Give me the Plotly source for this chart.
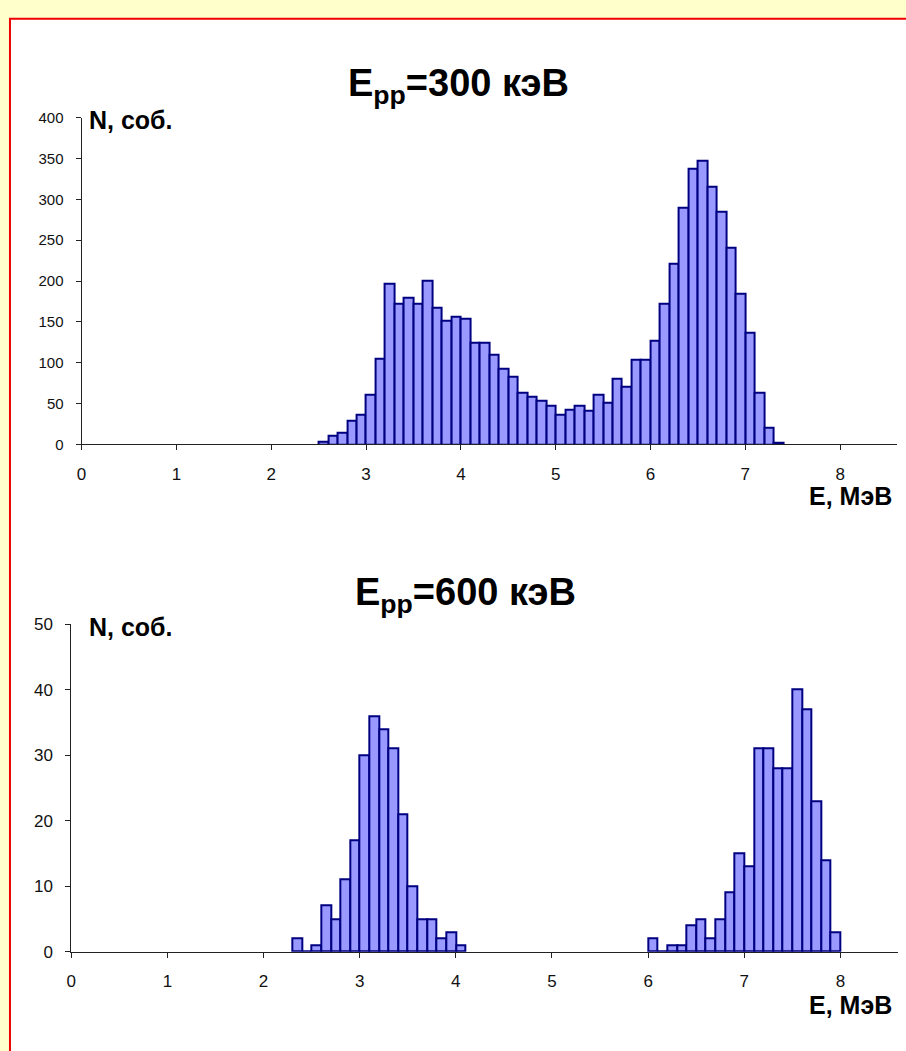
import plotly.graph_objects as go

W, H = 906, 1051

# ---- data: top histogram (E_pp = 300 keV), bin left edges in MeV and counts
top_E = [2.5, 2.6, 2.7, 2.8, 2.9, 3.0, 3.1, 3.2, 3.3, 3.4, 3.5, 3.6, 3.7, 3.8, 3.9,
         4.0, 4.1, 4.2, 4.3, 4.4, 4.5, 4.6, 4.7, 4.8, 4.9, 5.0, 5.1, 5.2, 5.3, 5.4,
         5.5, 5.6, 5.7, 5.8, 5.9, 6.0, 6.1, 6.2, 6.3, 6.4, 6.5, 6.6, 6.7, 6.8, 6.9,
         7.0, 7.1, 7.2, 7.3]
top_N = [4, 11, 14, 29, 36, 61, 105, 197, 172, 180, 172, 200, 167, 151, 157,
         154, 125, 125, 110, 93, 83, 63, 59, 53, 47, 37, 43, 47, 41, 61,
         51, 81, 71, 104, 104, 127, 172, 221, 290, 337, 347, 316, 285, 241, 184,
         137, 63, 21, 2]

# ---- data: bottom histogram (E_pp = 600 keV)
bot_E = [2.3, 2.4, 2.5, 2.6, 2.7, 2.8, 2.9, 3.0, 3.1, 3.2, 3.3, 3.4, 3.5, 3.6, 3.7,
         3.8, 3.9, 4.0,
         6.0, 6.1, 6.2, 6.3, 6.4, 6.5, 6.6, 6.7, 6.8, 6.9, 7.0, 7.1, 7.2, 7.3, 7.4,
         7.5, 7.6, 7.7, 7.8, 7.9]
bot_N = [2, 0, 1, 7, 5, 11, 17, 30, 36, 34, 31, 21, 10, 5, 5,
         2, 3, 1,
         2, 0, 1, 1, 4, 5, 2, 5, 9, 15, 13, 31, 31, 28, 28,
         40, 37, 23, 14, 3]

x_ticks = [0, 1, 2, 3, 4, 5, 6, 7, 8]
top_y_ticks = [0, 50, 100, 150, 200, 250, 300, 350, 400]
bot_y_ticks = [0, 10, 20, 30, 40, 50]

top_title = "E<sub>pp</sub>=300 кэВ"
bot_title = "E<sub>pp</sub>=600 кэВ"
y_label = "N, соб."
x_label = "E, МэВ"

FONT = "Liberation Sans, Arial, sans-serif"
BAR_FILL = "#9999FF"
BAR_LINE = "#000080"
AXIS = "#222222"


def px(x):
    return x / W


def py(y):
    return 1 - y / H


fig = go.Figure()

fig.add_trace(go.Bar(x=top_E, y=top_N, width=0.1, offset=0,
                     marker=dict(color=BAR_FILL, line=dict(color=BAR_LINE, width=2)),
                     xaxis="x", yaxis="y", showlegend=False))
fig.add_trace(go.Bar(x=bot_E, y=bot_N, width=0.1, offset=0,
                     marker=dict(color=BAR_FILL, line=dict(color=BAR_LINE, width=2)),
                     xaxis="x2", yaxis="y2", showlegend=False))

common_x = dict(range=[0, 8.6], tickvals=x_ticks, showgrid=False, zeroline=False,
                showline=True, linecolor=AXIS, linewidth=1, ticks="outside",
                ticklen=5, tickcolor=AXIS, tickwidth=1,
                tickfont=dict(family=FONT, size=17, color="#111"),
                ticklabelstandoff=9)
common_y = dict(showgrid=False, zeroline=False, showline=True, linecolor=AXIS,
                linewidth=1, ticks="outside", ticklen=5, tickcolor=AXIS, tickwidth=1,
                ticklabelstandoff=9)

fig.update_layout(
    width=W, height=H,
    margin=dict(l=0, r=0, t=0, b=0),
    paper_bgcolor="#FFFFCC",
    plot_bgcolor="rgba(0,0,0,0)",
    bargap=0,
    xaxis=dict(domain=[px(77), px(897)], anchor="y", **common_x),
    yaxis=dict(domain=[py(443.5), py(110.7)], anchor="x", range=[0, 400],
               tickvals=top_y_ticks,
               tickfont=dict(family=FONT, size=15, color="#111"), **common_y),
    xaxis2=dict(domain=[px(66.7), px(898)], anchor="y2", **common_x),
    yaxis2=dict(domain=[py(960), py(626.7)], anchor="x2", range=[0, 50],
                tickvals=bot_y_ticks,
                tickfont=dict(family=FONT, size=17, color="#111"), **common_y),
    shapes=[dict(type="rect", xref="paper", yref="paper",
                 x0=px(5), y0=py(H + 20), x1=px(W + 20), y1=py(10),
                 fillcolor="white", line=dict(color="#EE0000", width=2),
                 layer="below")],
    annotations=[
        dict(text="<b>" + top_title + "</b>", xref="paper", yref="paper",
             x=px(456), y=py(78), xanchor="center", yanchor="middle",
             showarrow=False, font=dict(family=FONT, size=38, color="black")),
        dict(text="<b>" + bot_title + "</b>", xref="paper", yref="paper",
             x=px(463), y=py(597), xanchor="center", yanchor="middle",
             showarrow=False, font=dict(family=FONT, size=38, color="black")),
        dict(text="<b>" + y_label + "</b>", xref="paper", yref="paper",
             x=px(82), y=py(113), xanchor="left", yanchor="middle",
             showarrow=False, font=dict(family=FONT, size=25, color="black")),
        dict(text="<b>" + y_label + "</b>", xref="paper", yref="paper",
             x=px(82), y=py(629), xanchor="left", yanchor="middle",
             showarrow=False, font=dict(family=FONT, size=25, color="black")),
        dict(text="<b>" + x_label + "</b>", xref="paper", yref="paper",
             x=px(894), y=py(496), xanchor="right", yanchor="middle",
             showarrow=False, font=dict(family=FONT, size=25, color="black")),
        dict(text="<b>" + x_label + "</b>", xref="paper", yref="paper",
             x=px(894), y=py(1014), xanchor="right", yanchor="middle",
             showarrow=False, font=dict(family=FONT, size=25, color="black")),
    ],
)

fig.write_html("out.html")
